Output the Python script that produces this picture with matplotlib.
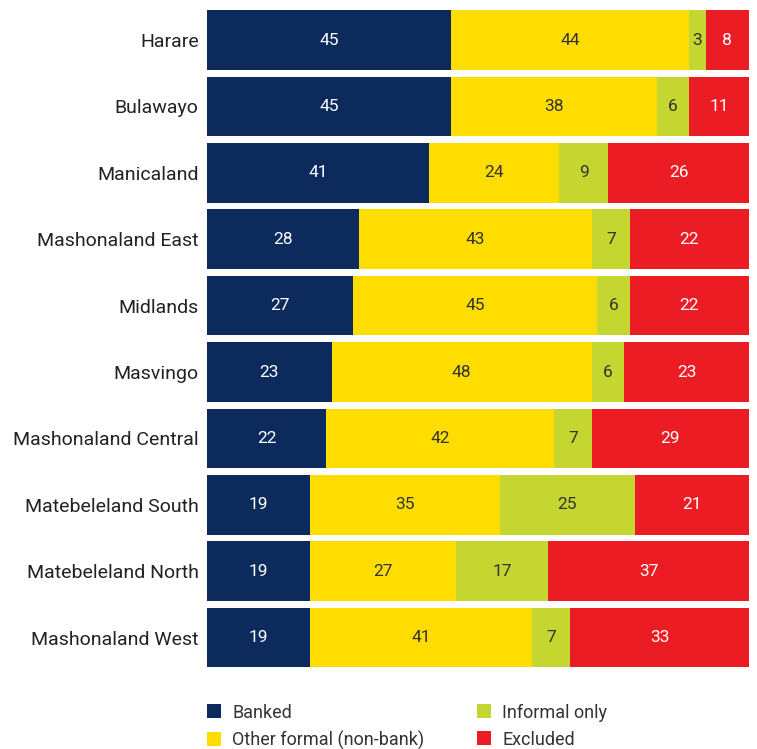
import numpy as np
import matplotlib.pyplot as plt
from matplotlib.patches import Patch

plt.rcParams['font.family'] = ['Liberation Sans Narrow', 'Roboto', 'DejaVu Sans']

# 各省数据（%）
regions = ['Harare', 'Bulawayo', 'Manicaland', 'Mashonaland East', 'Midlands',
           'Masvingo', 'Mashonaland Central', 'Matebeleland South',
           'Matebeleland North', 'Mashonaland West']
banked = [45, 45, 41, 28, 27, 23, 22, 19, 19, 19]
other_formal = [44, 38, 24, 43, 45, 48, 42, 35, 27, 41]
informal = [3, 6, 9, 7, 6, 6, 7, 25, 17, 7]
excluded = [8, 11, 26, 22, 22, 23, 29, 21, 37, 33]

series = [banked, other_formal, informal, excluded]
names = ['Banked', 'Other formal (non-bank)', 'Informal only', 'Excluded']
colors = ['#0c2a5c', '#ffdd00', '#c4d62f', '#ec1c24']
txtcol = ['white', '#333333', '#333333', 'white']

fig = plt.figure(figsize=(7.57, 7.49), dpi=100)
ax = fig.add_axes([0.2734, 0.1044, 0.716, 0.8865])

y = np.arange(len(regions))
left = np.zeros(len(regions))
for vals, c, tc in zip(series, colors, txtcol):
    vals = np.array(vals, dtype=float)
    ax.barh(y, vals, left=left, height=0.9, color=c, edgecolor='none')
    for yi, l, v in zip(y, left, vals):
        ax.text(l + v / 2, yi, '%d' % v, ha='center', va='center',
                fontsize=12.5, color=tc)
    left += vals

ax.set_xlim(0, 100)
ax.set_ylim(len(regions) - 0.5, -0.5)
ax.set_yticks(y)
ax.set_yticklabels(regions, fontsize=14, color='#222222')
ax.tick_params(axis='y', length=0, pad=6)
ax.set_xticks([])
for s in ax.spines.values():
    s.set_visible(False)

# 图例
handles = [Patch(facecolor=c, edgecolor='none') for c in colors]
fig.legend(handles, names,
           ncol=2, loc='lower left', bbox_to_anchor=(0.2734, -0.001),
           frameon=False, fontsize=13, handlelength=0.8, handleheight=0.8,
           columnspacing=2.9, labelspacing=0.5, handletextpad=0.6,
           borderpad=0, borderaxespad=0, labelcolor='#333333')

plt.savefig('out.png', dpi=100)
